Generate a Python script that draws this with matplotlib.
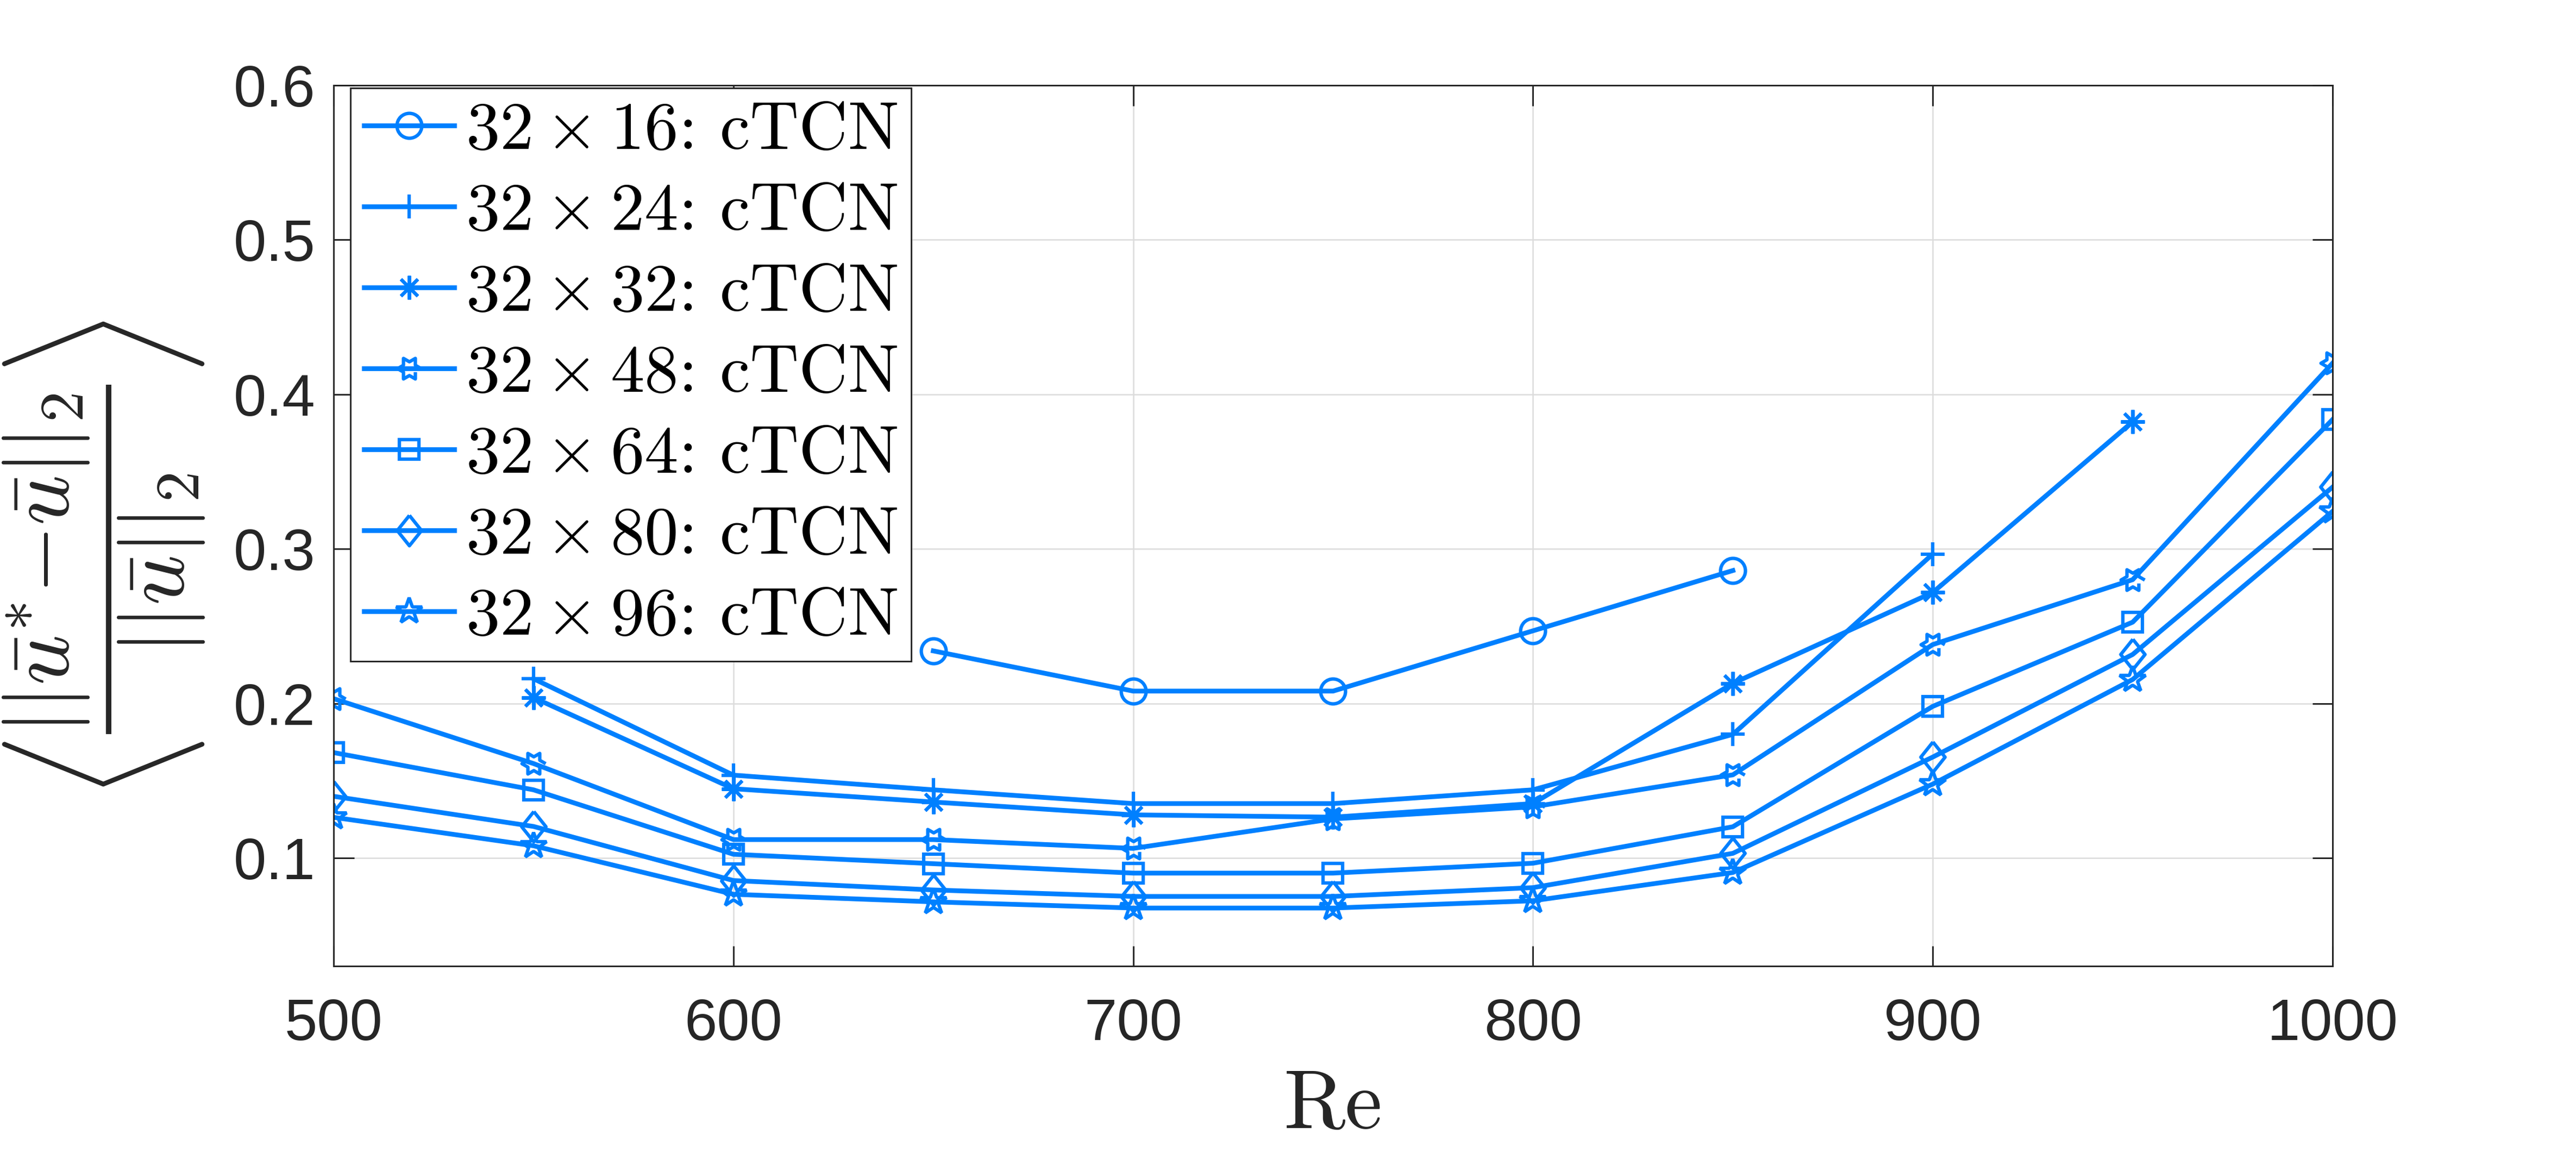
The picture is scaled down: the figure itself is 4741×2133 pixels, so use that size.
import numpy as np
import matplotlib
matplotlib.use('Agg')
import matplotlib.pyplot as plt

plt.rcParams['font.family'] = ['Liberation Sans', 'DejaVu Sans']
plt.rcParams['mathtext.fontset'] = 'cm'

# data (Re vs. mean relative error)
re_all = [500, 550, 600, 650, 700, 750, 800, 850, 900, 950, 1000]

re_16 = [650, 700, 750, 800, 850]
err_16 = [0.234, 0.208, 0.208, 0.247, 0.286]

re_24 = [550, 600, 650, 700, 750, 800, 850, 900]
err_24 = [0.216, 0.1536, 0.1441, 0.1352, 0.1352, 0.1441, 0.180, 0.2967]

re_32 = [550, 600, 650, 700, 750, 800, 850, 900, 950]
err_32 = [0.2038, 0.1448, 0.1362, 0.1279, 0.1264, 0.1352, 0.213, 0.2718, 0.3823]

err_48 = [0.2031, 0.1611, 0.1119, 0.1119, 0.1062, 0.1253, 0.1331, 0.1538, 0.2381, 0.2801, 0.4202]
err_64 = [0.1682, 0.1441, 0.1024, 0.0963, 0.0902, 0.0902, 0.0966, 0.1202, 0.1981, 0.2526, 0.3837]
err_80 = [0.1399, 0.1204, 0.0854, 0.0793, 0.0751, 0.0751, 0.0808, 0.103, 0.1653, 0.2317, 0.340]
err_96 = [0.1263, 0.1079, 0.0765, 0.0716, 0.0676, 0.0676, 0.0723, 0.0906, 0.1478, 0.2155, 0.3243]

grids = ['16', '24', '32', '48', '64', '80', '96']

blue = '#0080ff'
dark = '#262626'

# matlab-like markers
ang = np.deg2rad(np.arange(12) * 30)
rad = np.where(np.arange(12) % 2 == 0, 1.0, 1 / np.sqrt(3))
hexagram = list(zip(rad * np.cos(ang), rad * np.sin(ang)))
diamond = [(0, 1), (0.8, 0), (0, -1), (-0.8, 0), (0, 1)]

series = [
    (re_16, err_16, 'o', 11),
    (re_24, err_24, '+', 10.5),
    (re_32, err_32, (8, 2, 0), 10.5),
    (re_all, err_48, hexagram, 10.5),
    (re_all, err_64, 's', 8.7),
    (re_all, err_80, diamond, 13.4),
    (re_all, err_96, '*', 12),
]

fig = plt.figure(figsize=(4741 / 300, 2133 / 300), dpi=300)
ax = fig.add_axes([0.1295, 0.1664, 0.776, 0.76])

for (x, y, m, ms), g in zip(series, grids):
    ax.plot(x, y, color=blue, lw=2.1, marker=m, ms=ms, mew=1.5,
            mfc='none', mec=blue,
            label=r'$32 \times ' + g + '$: cTCN')

ax.set_xlim(500, 1000)
ax.set_ylim(0.03, 0.6)
ax.set_xticks([500, 600, 700, 800, 900, 1000])
ax.set_yticks([0.1, 0.2, 0.3, 0.4, 0.5, 0.6])
ax.grid(True, color='#dcdcdc', linewidth=0.6)
ax.set_axisbelow(True)

for s in ax.spines.values():
    s.set_color(dark)
    s.set_linewidth(0.7)
ax.tick_params(direction='in', length=9, width=0.7, color=dark,
               labelcolor=dark, labelsize=26, top=True, right=True)
ax.tick_params(axis='x', pad=14)
ax.tick_params(axis='y', pad=8)

ax.set_xlabel('Re', family='cmr10', fontsize=37, color=dark)
ax.xaxis.set_label_coords(0.5, -0.118)

fig.text(0.0405, 0.518,
         r'$\left\langle \dfrac{||\bar{u}^{*}{-}\bar{u}||_2}{||\bar{u}||_2} \right\rangle$',
         rotation=90, ha='center', va='center', fontsize=39, color=dark)

leg = ax.legend(loc='upper left', bbox_to_anchor=(0.0084, 0.997),
                borderaxespad=0, fancybox=False, framealpha=1,
                prop={'family': 'cmr10', 'size': 30},
                handlelength=1.33, handletextpad=0.17, labelspacing=0.30,
                borderpad=0.2)
leg.get_frame().set_edgecolor(dark)
leg.get_frame().set_linewidth(0.7)

fig.savefig('out.png', dpi=300)
